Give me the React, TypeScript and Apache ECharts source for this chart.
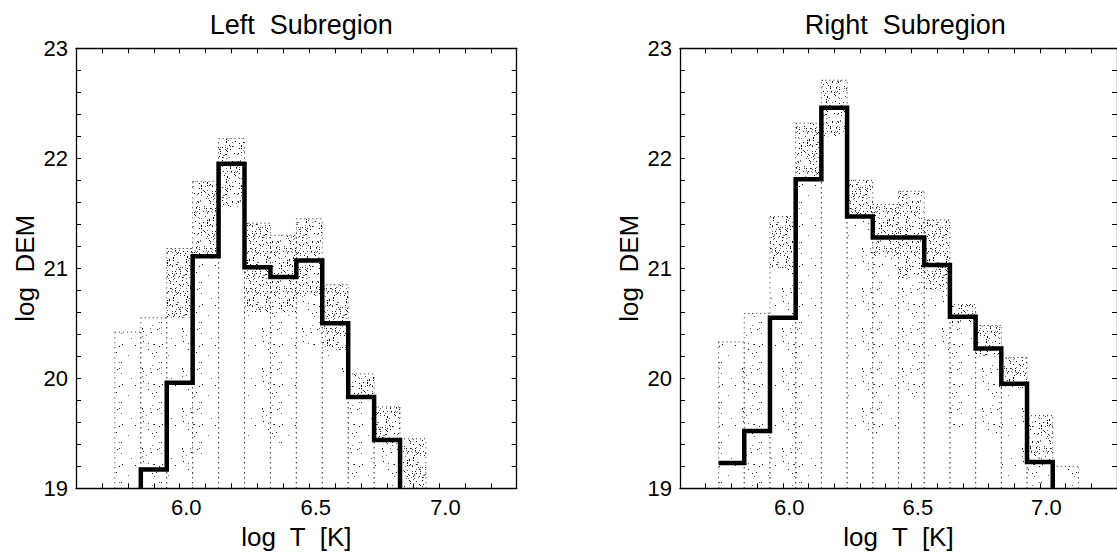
import React, { useEffect, useRef } from "react";
import * as echarts from "echarts";

// ---------- data ----------
const panelTitles = ["Left  Subregion", "Right  Subregion"];
const xTickLabels = ["6.0", "6.5", "7.0"];
const yTickLabels = ["19", "20", "21", "22", "23"];

// best-fit histogram (bin centres, log DEM)
const leftStepT = [5.9, 6.0, 6.1, 6.2, 6.3, 6.4, 6.5, 6.6, 6.7, 6.8];
const leftStepDem = [19.17, 19.96, 21.11, 21.95, 21.01, 20.92, 21.07, 20.5, 19.83, 19.44];

const rightStepT = [5.8, 5.9, 6.0, 6.1, 6.2, 6.3, 6.4, 6.5, 6.6, 6.7, 6.8, 6.9, 7.0];
const rightStepDem = [19.23, 19.52, 20.55, 21.81, 22.46, 21.47, 21.28, 21.28, 21.03, 20.56, 20.27, 19.95, 19.24];

// spread of Monte-Carlo realisations per bin
const leftBinT = [5.8, 5.9, 6.0, 6.1, 6.2, 6.3, 6.4, 6.5, 6.6, 6.7, 6.8, 6.9];
const leftHi = [20.42, 20.55, 21.18, 21.79, 22.18, 21.41, 21.3, 21.45, 20.85, 20.04, 19.74, 19.45];
const leftDenseLo = [20.42, 20.55, 20.55, 21.1, 21.56, 20.6, 20.6, 20.75, 20.25, 19.8, 19.4, 19.0];
const leftSparseLo = [19.0, 19.0, 19.0, 19.3, 21.56, 19.4, 19.4, 20.3, 20.05, 19.1, 19.0, 19.0];

const rightBinT = [5.8, 5.9, 6.0, 6.1, 6.2, 6.3, 6.4, 6.5, 6.6, 6.7, 6.8, 6.9, 7.0, 7.1];
const rightHi = [20.33, 20.59, 21.47, 22.32, 22.71, 21.8, 21.58, 21.7, 21.44, 20.67, 20.48, 20.19, 19.66, 19.2];
const rightDenseLo = [20.33, 20.59, 21.0, 21.81, 22.2, 21.47, 21.1, 20.9, 20.8, 20.5, 20.2, 19.9, 19.24, 19.2];
const rightSparseLo = [19.0, 19.0, 19.0, 19.0, 22.2, 19.5, 19.5, 19.8, 20.2, 19.55, 19.5, 19.0, 19.0, 19.0];

const BIN_HALF = 0.05;
const FLOOR = 19;

// ---------- helpers ----------
function makeTile(size: number, count: number, seed: number) {
  const c = document.createElement("canvas");
  c.width = size;
  c.height = size;
  const ctx = c.getContext("2d")!;
  let s = seed;
  const next = () => {
    s = (s * 1103515245 + 12345) & 0x7fffffff;
    return s / 0x7fffffff;
  };
  for (let i = 0; i < count; i++) {
    const x = Math.floor(next() * size);
    const y = Math.floor(next() * size);
    ctx.fillStyle = next() > 0.4 ? "#111" : "#666";
    ctx.fillRect(x, y, 1, 1);
  }
  return { image: c, repeat: "repeat", imageWidth: size, imageHeight: size };
}

function stepPoints(t: number[], v: number[], fromFloor: boolean) {
  const pts: number[][] = [];
  if (fromFloor) pts.push([t[0] - BIN_HALF, FLOOR]);
  t.forEach((c, i) => {
    pts.push([c - BIN_HALF, v[i]]);
    pts.push([c + BIN_HALF, v[i]]);
  });
  pts.push([t[t.length - 1] + BIN_HALF, FLOOR]);
  return pts;
}

const FONT = "'Liberation Sans', Arial, Helvetica, sans-serif";

export default function App() {
  const ref = useRef<HTMLDivElement>(null);
  useEffect(() => {
    if (!ref.current) return;
    const chart = echarts.init(ref.current, undefined, { renderer: "svg" });
    const sparse = makeTile(40, 26, 7);
    const dense = makeTile(40, 170, 13);

    const renderSpread = (params: any, api: any) => {
      const t = api.value(0);
      const hi = api.value(1);
      const dLo = api.value(2);
      const sLo = api.value(3);
      const pL = api.coord([t - BIN_HALF, hi]);
      const pR = api.coord([t + BIN_HALF, hi]);
      const yD = api.coord([t, dLo])[1];
      const yS = api.coord([t, sLo])[1];
      const yF = api.coord([t, FLOOR])[1];
      const x0 = pL[0];
      const x1 = pR[0];
      const yH = pL[1];
      const dotH = { stroke: "#222", lineWidth: 1, lineDash: [1, 3], fill: null };
      const dotV = { stroke: "#333", lineWidth: 1, lineDash: [1, 4], fill: null };
      return {
        type: "group",
        children: [
          { type: "rect", shape: { x: x0, y: yD, width: x1 - x0, height: Math.max(0, yS - yD) }, style: { fill: sparse } },
          { type: "rect", shape: { x: x0, y: yH, width: x1 - x0, height: Math.max(0, yD - yH) }, style: { fill: dense } },
          { type: "line", shape: { x1: x0, y1: yH, x2: x1, y2: yH }, style: dotH },
          { type: "line", shape: { x1: x0, y1: yF, x2: x0, y2: yH }, style: dotV },
          { type: "line", shape: { x1: x1, y1: yF, x2: x1, y2: yH }, style: dotV },
        ],
      };
    };

    const xLabelFmt = (v: number) => {
      const s = v.toFixed(1);
      return xTickLabels.includes(s) ? s : "";
    };
    const yLabelFmt = (v: number) => {
      const s = String(Math.round(v));
      return Math.abs(v - Math.round(v)) < 1e-6 && yTickLabels.includes(s) ? s : "";
    };

    const axisLine = { show: true, onZero: false, lineStyle: { color: "#000", width: 1.3 } };
    const axisTick = { show: true, inside: true, length: 5, lineStyle: { color: "#000", width: 1 } };

    const xAxes: any[] = [];
    const yAxes: any[] = [];
    [0, 1].forEach((g) => {
      xAxes.push({
        type: "value", gridIndex: g, position: "bottom", min: 5.6, max: 7.3, interval: 0.1,
        axisLine, axisTick, splitLine: { show: false },
        axisLabel: { formatter: xLabelFmt, color: "#000", fontSize: 22, fontFamily: FONT, margin: 8, padding: [0, 0, 0, 13], showMaxLabel: false },
        name: "log  T  [K]", nameLocation: "middle", nameGap: 36,
        nameTextStyle: { color: "#000", fontSize: 26, fontFamily: FONT },
      });
      xAxes.push({
        type: "value", gridIndex: g, position: "top", min: 5.6, max: 7.3, interval: 0.1,
        axisLine, axisTick, splitLine: { show: false }, axisLabel: { show: false },
      });
      yAxes.push({
        type: "value", gridIndex: g, position: "left", min: 19, max: 23, interval: 0.2,
        axisLine, axisTick, splitLine: { show: false },
        axisLabel: { formatter: yLabelFmt, color: "#000", fontSize: 22, fontFamily: FONT, margin: 8 },
        name: "log  DEM", nameLocation: "middle", nameGap: 38, nameRotate: 90,
        nameTextStyle: { color: "#000", fontSize: 26, fontFamily: FONT },
      });
      yAxes.push({
        type: "value", gridIndex: g, position: "right", min: 19, max: 23, interval: 0.2,
        axisLine, axisTick, splitLine: { show: false }, axisLabel: { show: false },
      });
    });

    const spreadData = (t: number[], hi: number[], dLo: number[], sLo: number[]) =>
      t.map((c, i) => [c, hi[i], dLo[i], sLo[i]]);

    chart.setOption({
      animation: false,
      backgroundColor: "#fff",
      title: [
        { text: panelTitles[0], left: 296.3, top: 6, textAlign: "center", textStyle: { fontSize: 27, fontWeight: "normal", color: "#000", fontFamily: FONT } },
        { text: panelTitles[1], left: 900.3, top: 6, textAlign: "center", textStyle: { fontSize: 27, fontWeight: "normal", color: "#000", fontFamily: FONT } },
      ],
      grid: [
        { left: 76, top: 48.3, width: 440.7, height: 440 },
        { left: 680, top: 48.3, width: 440.7, height: 440 },
      ],
      xAxis: xAxes,
      yAxis: yAxes,
      series: [
        {
          type: "custom", xAxisIndex: 0, yAxisIndex: 0, renderItem: renderSpread, clip: true, z: 1,
          data: spreadData(leftBinT, leftHi, leftDenseLo, leftSparseLo),
        },
        {
          type: "line", xAxisIndex: 0, yAxisIndex: 0, data: stepPoints(leftStepT, leftStepDem, true),
          symbol: "none", z: 5, lineStyle: { color: "#000", width: 4.5, join: "miter", cap: "butt" },
        },
        {
          type: "custom", xAxisIndex: 2, yAxisIndex: 2, renderItem: renderSpread, clip: true, z: 1,
          data: spreadData(rightBinT, rightHi, rightDenseLo, rightSparseLo),
        },
        {
          type: "line", xAxisIndex: 2, yAxisIndex: 2, data: stepPoints(rightStepT, rightStepDem, false),
          symbol: "none", z: 5, lineStyle: { color: "#000", width: 4.5, join: "miter", cap: "butt" },
        },
      ],
    });
    return () => chart.dispose();
  }, []);
  return (
    <div
      ref={ref}
      style={{ position: "fixed", left: 0, top: 0, width: 1117, height: 560, background: "#fff" }}
    />
  );
}
